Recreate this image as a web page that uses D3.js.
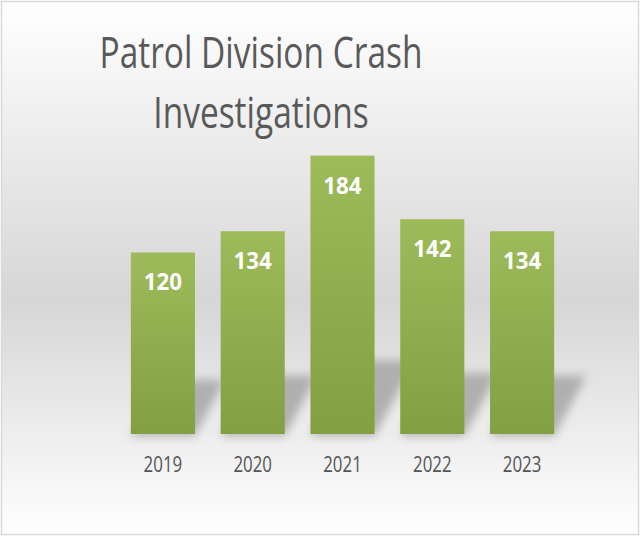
<!DOCTYPE html>
<html>
<head>
<meta charset="utf-8">
<script src="https://cdn.jsdelivr.net/npm/d3@7"></script>
<style>
  body { margin: 0; background: #fff; }
  text { font-family: "Open Sans", "Noto Sans", sans-serif; }
</style>
</head>
<body>
<script>
var width = 640;
var height = 536;

// data
var years = ["2019", "2020", "2021", "2022", "2023"];
var crashes = [120, 134, 184, 142, 134];
var titleLines = ["Patrol Division Crash", "Investigations"];

var svg = d3.select("body")
    .append("svg")
    .attr("width", width)
    .attr("height", height);

var defs = svg.append("defs");

// background: white -> grey -> white
var bg = defs.append("linearGradient")
    .attr("id", "bg")
    .attr("x1", 0).attr("y1", 0).attr("x2", 0).attr("y2", 1);
bg.append("stop").attr("offset", "0%").attr("stop-color", "#ffffff");
bg.append("stop").attr("offset", "56%").attr("stop-color", "#d6d6d6");
bg.append("stop").attr("offset", "100%").attr("stop-color", "#ffffff");

var barGrad = defs.append("linearGradient")
    .attr("id", "barGrad")
    .attr("x1", 0).attr("y1", 0).attr("x2", 0).attr("y2", 1);
barGrad.append("stop").attr("offset", "0%").attr("stop-color", "#9dbb5a");
barGrad.append("stop").attr("offset", "100%").attr("stop-color", "#82a042");

var blur = defs.append("filter")
    .attr("id", "blur")
    .attr("x", "-50%").attr("y", "-50%")
    .attr("width", "200%").attr("height", "200%");
blur.append("feGaussianBlur").attr("stdDeviation", 5);

svg.append("rect")
    .attr("x", 1.5).attr("y", 1.5)
    .attr("width", width - 3).attr("height", height - 3)
    .attr("fill", "url(#bg)")
    .attr("stroke", "#d9d9d9")
    .attr("stroke-width", 1.5);

var x = d3.scaleBand()
    .domain(years)
    .range([118, 567])
    .paddingInner(0.286)
    .paddingOuter(0.143);

var y = d3.scaleLinear()
    .domain([0, 200])
    .range([434, 131.4]);

// squeeze text sideways so the (narrow) reference font is matched
function condense(sel, k) {
    sel.each(function() {
        var len = this.getComputedTextLength();
        d3.select(this)
            .attr("textLength", len * k)
            .attr("lengthAdjust", "spacingAndGlyphs");
    });
}

// title
var title = svg.append("g");
title.selectAll("text")
    .data(titleLines)
    .join("text")
    .attr("x", 261)
    .attr("y", function(d, i) { return 68 + i * 60; })
    .attr("text-anchor", "middle")
    .attr("fill", "#595959")
    .style("font-size", "44px")
    .text(function(d) { return d; })
    .call(condense, 0.76);

// perspective shadows behind the bars
svg.append("g")
    .attr("filter", "url(#blur)")
    .selectAll("path")
    .data(crashes)
    .join("path")
    .attr("fill", "#a6a6a6")
    .attr("opacity", 0.85)
    .attr("d", function(d, i) {
        var x0 = x(years[i]);
        var x1 = x0 + x.bandwidth();
        var b = y(0);
        var h = (b - y(d)) * 0.2 + 18;
        var dx = h * 0.55;
        return "M" + x0 + "," + (b + 2) +
            "L" + x1 + "," + (b + 2) +
            "L" + (x1 + dx) + "," + (b - h) +
            "L" + (x0 + dx) + "," + (b - h) + "Z";
    });

// bars
svg.append("g")
    .selectAll("rect")
    .data(crashes)
    .join("rect")
    .attr("x", function(d, i) { return x(years[i]); })
    .attr("y", function(d) { return y(d); })
    .attr("width", x.bandwidth())
    .attr("height", function(d) { return y(0) - y(d); })
    .attr("fill", "url(#barGrad)");

// value labels
svg.append("g")
    .selectAll("text")
    .data(crashes)
    .join("text")
    .attr("x", function(d, i) { return x(years[i]) + x.bandwidth() / 2; })
    .attr("y", function(d) { return y(d) + 38; })
    .attr("text-anchor", "middle")
    .attr("fill", "#ffffff")
    .style("font-size", "24px")
    .style("font-weight", "bold")
    .text(function(d) { return d; })
    .call(condense, 0.93);

// x axis labels
var xAxis = svg.append("g")
    .attr("transform", "translate(0," + y(0) + ")")
    .call(d3.axisBottom(x).tickSize(0).tickPadding(0));
xAxis.select(".domain").remove();
xAxis.selectAll("text")
    .attr("y", 38)
    .attr("dy", null)
    .attr("fill", "#555555")
    .style("font-family", "'Open Sans', 'Noto Sans', sans-serif")
    .style("font-size", "22.5px")
    .call(condense, 0.75);
</script>
</body>
</html>
